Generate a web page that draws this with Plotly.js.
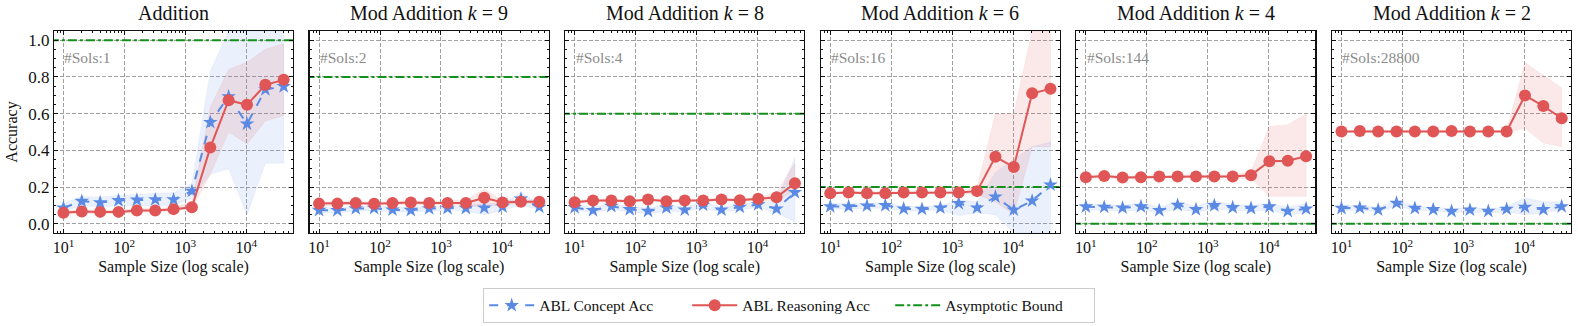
<!DOCTYPE html>
<html>
<head>
<meta charset="utf-8">
<script src="https://cdn.plot.ly/plotly-3.0.1.min.js"></script>
<style>
  html, body { margin: 0; padding: 0; background: #fff; }
  #chart { width: 1578px; height: 326px; }
</style>
</head>
<body>
<div id="chart"></div>
<script>
// sample sizes shared by every panel
const sampleSizes = [10, 20, 40, 80, 160, 320, 640, 1280, 2560, 5120, 10240, 20480, 40960];

const panelTitles = [
  "Addition",
  "Mod Addition <i>k</i> = 9",
  "Mod Addition <i>k</i> = 8",
  "Mod Addition <i>k</i> = 6",
  "Mod Addition <i>k</i> = 4",
  "Mod Addition <i>k</i> = 2"
];
const numSols = ["1", "2", "4", "16", "144", "28800"];
const asymptoticBound = [1.0, 0.8, 0.6, 0.2, 0.0, 0.0];

// ABL Concept Acc (mean, lower, upper)
const conceptAcc = [
  [0.087, 0.123, 0.116, 0.127, 0.13, 0.132, 0.132, 0.178, 0.553, 0.693, 0.544, 0.731, 0.748],
  [0.074, 0.073, 0.083, 0.085, 0.076, 0.074, 0.083, 0.085, 0.085, 0.087, 0.093, 0.136, 0.091],
  [0.089, 0.073, 0.096, 0.078, 0.069, 0.087, 0.076, 0.102, 0.076, 0.091, 0.105, 0.082, 0.171],
  [0.094, 0.094, 0.098, 0.1, 0.082, 0.08, 0.087, 0.111, 0.087, 0.147, 0.076, 0.125, 0.212],
  [0.093, 0.091, 0.087, 0.094, 0.073, 0.102, 0.078, 0.1, 0.089, 0.085, 0.093, 0.069, 0.082],
  [0.085, 0.087, 0.076, 0.113, 0.085, 0.078, 0.069, 0.076, 0.069, 0.08, 0.091, 0.078, 0.094]
];
const conceptLow = [
  [0.07, 0.1, 0.09, 0.1, 0.1, 0.1, 0.1, 0.14, 0.27, 0.3, 0.05, 0.33, 0.33],
  [0.06, 0.06, 0.07, 0.07, 0.065, 0.065, 0.07, 0.075, 0.07, 0.05, 0.075, 0.1, 0.08],
  [0.075, 0.06, 0.08, 0.065, 0.055, 0.07, 0.065, 0.085, 0.065, 0.075, 0.09, 0.06, 0.01],
  [0.08, 0.08, 0.085, 0.085, 0.07, 0.07, 0.075, 0.045, 0.06, 0.05, -0.05, -0.05, -0.05],
  [0.075, 0.075, 0.07, 0.075, 0.06, 0.08, 0.065, 0.08, 0.075, 0.07, 0.075, 0.05, 0.06],
  [0.07, 0.075, 0.065, 0.095, 0.075, 0.07, 0.06, 0.065, 0.06, 0.065, 0.05, 0.06, 0.075]
];
const conceptHigh = [
  [0.11, 0.15, 0.145, 0.155, 0.16, 0.165, 0.17, 0.22, 0.83, 1.05, 1.05, 1.05, 1.05],
  [0.09, 0.085, 0.095, 0.1, 0.09, 0.09, 0.095, 0.095, 0.1, 0.11, 0.11, 0.17, 0.11],
  [0.1, 0.09, 0.11, 0.095, 0.085, 0.105, 0.09, 0.12, 0.09, 0.105, 0.12, 0.12, 0.36],
  [0.11, 0.11, 0.11, 0.115, 0.095, 0.09, 0.1, 0.13, 0.12, 0.28, 0.35, 0.42, 0.445],
  [0.11, 0.105, 0.1, 0.115, 0.09, 0.12, 0.095, 0.125, 0.105, 0.1, 0.11, 0.09, 0.11],
  [0.1, 0.1, 0.09, 0.13, 0.095, 0.09, 0.08, 0.09, 0.08, 0.095, 0.14, 0.12, 0.12]
];

// ABL Reasoning Acc (mean, lower, upper)
const reasoningAcc = [
  [0.06, 0.067, 0.065, 0.065, 0.073, 0.073, 0.08, 0.09, 0.415, 0.673, 0.648, 0.757, 0.784],
  [0.11, 0.11, 0.114, 0.109, 0.113, 0.116, 0.113, 0.114, 0.114, 0.142, 0.116, 0.12, 0.12],
  [0.118, 0.127, 0.127, 0.123, 0.132, 0.123, 0.127, 0.127, 0.132, 0.129, 0.136, 0.145, 0.221],
  [0.167, 0.171, 0.167, 0.167, 0.171, 0.171, 0.171, 0.171, 0.178, 0.365, 0.309, 0.711, 0.735],
  [0.254, 0.26, 0.252, 0.254, 0.258, 0.258, 0.258, 0.258, 0.258, 0.265, 0.341, 0.343, 0.368],
  [0.503, 0.505, 0.503, 0.503, 0.503, 0.503, 0.505, 0.503, 0.503, 0.503, 0.699, 0.641, 0.575]
];
const reasoningLow = [
  [0.05, 0.057, 0.055, 0.055, 0.063, 0.063, 0.07, 0.08, 0.27, 0.5, 0.435, 0.56, 0.59],
  [0.1, 0.1, 0.105, 0.1, 0.105, 0.105, 0.105, 0.105, 0.1, 0.09, 0.105, 0.11, 0.11],
  [0.11, 0.12, 0.12, 0.115, 0.125, 0.115, 0.12, 0.12, 0.125, 0.122, 0.128, 0.125, 0.18],
  [0.16, 0.165, 0.16, 0.16, 0.165, 0.165, 0.165, 0.165, 0.16, 0.12, 0.05, 0.42, 0.42],
  [0.245, 0.25, 0.245, 0.245, 0.25, 0.25, 0.25, 0.25, 0.25, 0.245, 0.15, 0.15, 0.15],
  [0.498, 0.5, 0.498, 0.498, 0.498, 0.498, 0.5, 0.498, 0.498, 0.498, 0.52, 0.44, 0.42]
];
const reasoningHigh = [
  [0.07, 0.077, 0.075, 0.075, 0.083, 0.083, 0.09, 0.12, 0.635, 0.84, 0.88, 0.95, 0.98],
  [0.12, 0.12, 0.123, 0.118, 0.122, 0.127, 0.122, 0.123, 0.128, 0.19, 0.127, 0.13, 0.13],
  [0.126, 0.134, 0.134, 0.131, 0.14, 0.131, 0.134, 0.134, 0.14, 0.136, 0.144, 0.17, 0.33],
  [0.175, 0.178, 0.175, 0.175, 0.178, 0.178, 0.178, 0.178, 0.2, 0.6, 0.6, 1.05, 1.05],
  [0.262, 0.268, 0.26, 0.262, 0.266, 0.266, 0.266, 0.266, 0.266, 0.285, 0.53, 0.54, 0.6],
  [0.508, 0.51, 0.508, 0.508, 0.508, 0.508, 0.51, 0.508, 0.508, 0.508, 0.877, 0.81, 0.74]
];

const xTickVals = [10, 100, 1000, 10000];
const xTickText = ["10<sup>1</sup>", "10<sup>2</sup>", "10<sup>3</sup>", "10<sup>4</sup>"];
const yTickVals = [0, 0.2, 0.4, 0.6, 0.8, 1.0];

const BLUE = "#5b8ae5";
const RED = "#e05555";
const GREEN = "#12901a";
const FONT = "Liberation Serif";

// minor log ticks 2..9 per decade
const xMinor = [];
for (let d = 1; d <= 10000; d *= 10) {
  for (let m = 2; m <= 9; m++) xMinor.push(m * d);
}

const W = 1578, H = 326;
const panelLeft = [54, 309.6, 565.2, 820.8, 1076.4, 1332];
const panelWidth = 239;
const plotTop = 31, plotBottom = 233;

function band(x, lo, hi, color, ax) {
  return {
    type: "scatter",
    mode: "lines",
    x: [...x, ...x.slice().reverse()],
    y: [...hi, ...lo.slice().reverse()],
    fill: "toself",
    fillcolor: color,
    line: { width: 0.6, color: color },
    hoverinfo: "skip",
    showlegend: false,
    xaxis: "x" + ax,
    yaxis: "y" + ax
  };
}

const traces = [];
const layout = {
  width: W,
  height: H,
  margin: { l: 0, r: 0, t: 0, b: 0 },
  paper_bgcolor: "#fff",
  plot_bgcolor: "#fff",
  font: { family: FONT, size: 16, color: "#111" },
  showlegend: true,
  legend: {
    orientation: "h",
    x: 0.5,
    xanchor: "center",
    y: 1 - 305.5 / H,
    yanchor: "middle",
    bordercolor: "#cccccc",
    borderwidth: 1.2,
    font: { family: FONT, size: 15.5 },
    entrywidth: 143,
    itemwidth: 45,
    traceorder: "normal"
  },
  annotations: []
};

for (let i = 0; i < 6; i++) {
  const ax = i === 0 ? "" : String(i + 1);
  traces.push(band(sampleSizes, conceptLow[i], conceptHigh[i], "rgba(91,138,229,0.13)", ax));
  traces.push(band(sampleSizes, reasoningLow[i], reasoningHigh[i], "rgba(224,85,85,0.13)", ax));
  traces.push({
    type: "scatter",
    mode: "lines",
    x: [6, 60000],
    y: [asymptoticBound[i], asymptoticBound[i]],
    line: { color: GREEN, width: 2, dash: "dashdot" },
    name: "Asymptotic Bound",
    showlegend: i === 0,
    legendrank: 3,
    xaxis: "x" + ax,
    yaxis: "y" + ax
  });
  traces.push({
    type: "scatter",
    mode: "lines+markers",
    x: sampleSizes,
    y: conceptAcc[i],
    line: { color: BLUE, width: 2, dash: "dash" },
    marker: { symbol: "star", size: 11, color: BLUE },
    name: "ABL Concept Acc",
    showlegend: i === 0,
    legendrank: 1,
    xaxis: "x" + ax,
    yaxis: "y" + ax
  });
  traces.push({
    type: "scatter",
    mode: "lines+markers",
    x: sampleSizes,
    y: reasoningAcc[i],
    line: { color: RED, width: 2 },
    marker: { symbol: "circle", size: 12, color: RED },
    name: "ABL Reasoning Acc",
    showlegend: i === 0,
    legendrank: 2,
    xaxis: "x" + ax,
    yaxis: "y" + ax
  });

  const x0 = panelLeft[i] / W, x1 = (panelLeft[i] + panelWidth) / W;
  const common = {
    showline: true,
    linecolor: "#111",
    linewidth: 1.2,
    mirror: "allticks",
    ticks: "inside",
    ticklen: 4,
    tickwidth: 1,
    tickcolor: "#111",
    showgrid: true,
    gridcolor: "#8a8a8a",
    gridwidth: 0.8,
    griddash: "4px,2px",
    zeroline: false
  };
  layout["xaxis" + ax] = {
    ...common,
    domain: [x0, x1],
    anchor: "y" + ax,
    type: "log",
    range: [0.845, 4.765],
    tickmode: "array",
    tickvals: xTickVals,
    ticktext: xTickText,
    tickfont: { family: FONT, size: 16 },
    minor: { tickvals: xMinor, ticks: "inside", ticklen: 2, tickcolor: "#111", showgrid: false },
    title: { text: "Sample Size (log scale)", font: { family: FONT, size: 16 }, standoff: 5 }
  };
  layout["yaxis" + ax] = {
    ...common,
    domain: [1 - plotBottom / H, 1 - plotTop / H],
    anchor: "x" + ax,
    range: [-0.05, 1.05],
    tickmode: "array",
    tickvals: yTickVals,
    tickformat: ".1f",
    tickfont: { family: FONT, size: 17 },
    showticklabels: i === 0,
    minor: { dtick: 0.05, ticks: "inside", ticklen: 2, tickcolor: "#111", showgrid: false },
    title: i === 0 ? { text: "Accuracy", font: { family: FONT, size: 16 }, standoff: 6 } : { text: "" }
  };

  layout.annotations.push({
    text: panelTitles[i],
    xref: "paper",
    yref: "paper",
    x: (panelLeft[i] + panelWidth / 2) / W,
    y: 1 - 13 / H,
    xanchor: "center",
    yanchor: "middle",
    showarrow: false,
    font: { family: FONT, size: 20, color: "#111" }
  });
  layout.annotations.push({
    text: "#Sols:" + numSols[i],
    xref: "x" + ax + " domain",
    yref: "y" + ax + " domain",
    x: 0.035,
    y: 0.87,
    xanchor: "left",
    yanchor: "middle",
    showarrow: false,
    font: { family: FONT, size: 15.5, color: "#8c8c8c" }
  });
}

Plotly.newPlot("chart", traces, layout, { displayModeBar: false, staticPlot: true });
</script>
</body>
</html>
